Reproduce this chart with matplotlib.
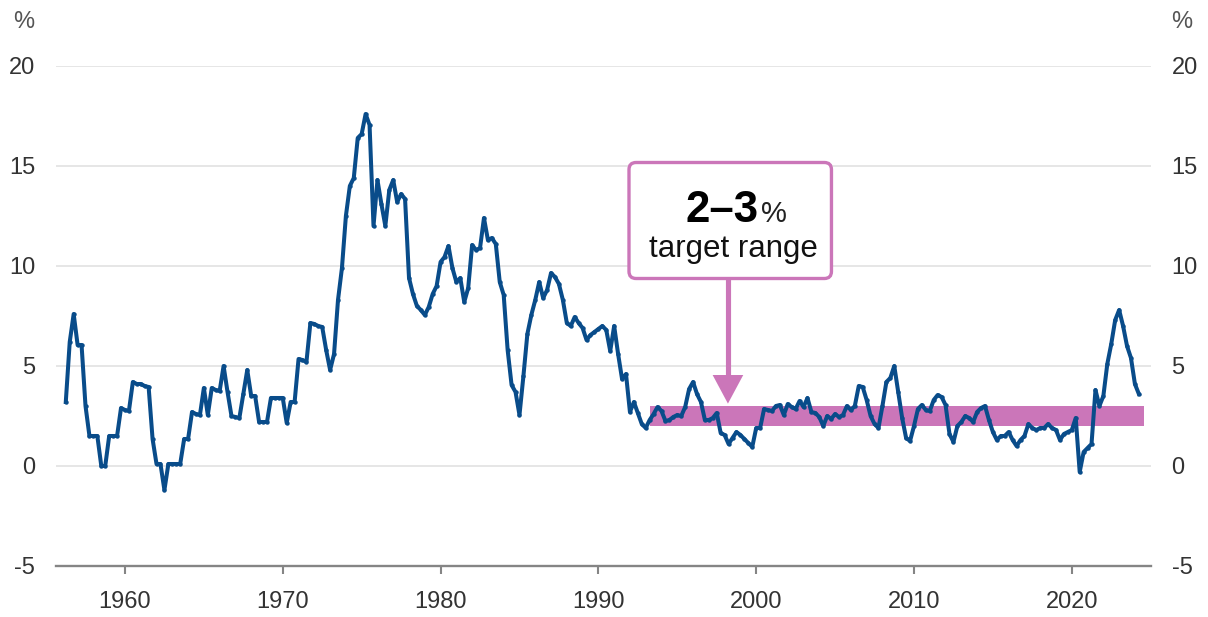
import matplotlib
matplotlib.use("Agg")
import matplotlib.pyplot as plt
from matplotlib.patches import FancyBboxPatch, Polygon
import numpy as np

plt.rcParams['font.family'] = ['Liberation Sans', 'DejaVu Sans']
plt.rcParams['axes.unicode_minus'] = False

# Year-ended inflation, quarterly (Mar, Jun, Sep, Dec), starting Mar 1956
infl_1950s = [3.2, 6.2, 7.6, 6.05,
              6.05, 3.0, 1.5, 1.5,
              1.5, 0.0, 0.0, 1.5,
              1.5, 1.5, 2.9, 2.8]
infl_1960s = [2.75, 4.2, 4.1, 4.1,
              4.0, 3.95, 1.35, 0.1,
              0.1, -1.2, 0.1, 0.1,
              0.1, 0.1, 1.35, 1.35,
              2.7, 2.6, 2.55, 3.9,
              2.55, 3.9, 3.8, 3.75,
              5.0, 3.7, 2.5, 2.45,
              2.4, 3.6, 4.8, 3.5,
              3.5, 2.2, 2.2, 2.2,
              3.4, 3.4, 3.4, 3.4]
infl_1970s = [2.15, 3.2, 3.2, 5.35,
              5.3, 5.2, 7.15, 7.1,
              7.0, 6.95, 5.8, 4.8,
              5.6, 8.3, 9.9, 12.5,
              14.0, 14.4, 16.4, 16.6,
              17.6, 17.05, 12.0, 14.3,
              13.1, 12.0, 13.8, 14.3,
              13.2, 13.6, 13.35, 9.4,
              8.6, 8.0, 7.8, 7.55,
              7.95, 8.6, 9.0, 10.2]
infl_1980s = [10.45, 11.0, 9.9, 9.2,
              9.4, 8.2, 8.9, 11.05,
              10.8, 10.9, 12.4, 11.3,
              11.4, 11.1, 9.2, 8.55,
              5.8, 4.05, 3.7, 2.55,
              4.5, 6.6, 7.55, 8.3,
              9.2, 8.4, 8.8, 9.65,
              9.45, 9.1, 8.3, 7.15,
              7.0, 7.45, 7.15, 6.9,
              6.3, 6.55, 6.7, 6.85]
infl_1990s = [7.0, 6.8, 5.75, 7.0,
              5.6, 4.35, 4.6, 2.7,
              3.2, 2.65, 2.1, 1.9,
              2.3, 2.6, 2.95, 2.75,
              2.25, 2.3, 2.45, 2.55,
              2.5, 2.95, 3.85, 4.2,
              3.6, 3.2, 2.3, 2.3,
              2.4, 2.65, 1.65, 1.55,
              1.1, 1.4, 1.7, 1.55,
              1.35, 1.15, 0.95, 1.9]
infl_2000s = [1.9, 2.85, 2.8, 2.75,
              3.0, 3.05, 2.55, 3.1,
              2.95, 2.85, 3.25, 2.95,
              3.4, 2.7, 2.65, 2.45,
              2.0, 2.5, 2.35, 2.6,
              2.45, 2.55, 3.0, 2.8,
              3.0, 4.0, 3.95, 3.3,
              2.5, 2.1, 1.9, 3.0,
              4.2, 4.4, 5.0, 3.7,
              2.4, 1.4, 1.25, 2.0]
infl_2010s = [2.85, 3.05, 2.8, 2.75,
              3.3, 3.55, 3.45, 3.05,
              1.6, 1.2, 2.0, 2.2,
              2.5, 2.4, 2.2, 2.7,
              2.9, 3.0, 2.3, 1.7,
              1.3, 1.5, 1.5, 1.7,
              1.3, 1.0, 1.3, 1.5,
              2.1, 1.9, 1.8, 1.9,
              1.9, 2.1, 1.9, 1.8,
              1.3, 1.6, 1.7, 1.8]
infl_2020s = [2.4, -0.3, 0.7, 0.9,
              1.1, 3.8, 3.0, 3.5,
              5.1, 6.1, 7.3, 7.8,
              7.0, 6.0, 5.4, 4.1,
              3.6]

start_year = 1956
target_low, target_high = 2, 3
target_start, target_end = 1993.27, 2024.6
year_ticks = [1960, 1970, 1980, 1990, 2000, 2010, 2020]
y_ticks = [-5, 0, 5, 10, 15, 20]

values = np.array(infl_1950s + infl_1960s + infl_1970s + infl_1980s +
                  infl_1990s + infl_2000s + infl_2010s + infl_2020s)
dates = start_year + 0.25 * (np.arange(len(values)) + 1)

LINE = '#094C8A'
PINK = '#CB76B9'
GRID = '#E2E2E2'
AXIS = '#858585'
TXT = '#333333'

W, H = 1208, 617
fig = plt.figure(figsize=(W / 100, H / 100), dpi=100)
ax = fig.add_axes([56 / W, 51 / H, (1150.7 - 56) / W, 500 / H])

ax.set_xlim(1955.63, 2025.0)
ax.set_ylim(-5, 20)

for yv in y_ticks[1:]:
    ax.axhline(yv, color=GRID, lw=1.2, zorder=0)

for s in ['top', 'left', 'right']:
    ax.spines[s].set_visible(False)
ax.spines['bottom'].set_color(AXIS)
ax.spines['bottom'].set_linewidth(1.7)

ax.set_xticks(year_ticks)
ax.set_xticklabels([str(y) for y in year_ticks])
ax.tick_params(axis='x', length=5.8, width=1.5, color=AXIS, pad=12.5,
               labelsize=17, labelcolor=TXT)
ax.set_yticks(y_ticks)
ax.set_yticklabels([str(v) for v in y_ticks])
ax.tick_params(axis='y', length=0, pad=15, labelsize=17, labelcolor=TXT,
               left=False, right=False, labelleft=True, labelright=True)

# target band
ax.fill_between([target_start, target_end], target_low, target_high,
                color=PINK, lw=0, zorder=1)

# inflation line
ax.plot(dates, values, color=LINE, lw=2.9, zorder=3, solid_joinstyle='round',
        marker='o', markersize=3.2, markeredgewidth=0)

# annotation box
bx0, bx1 = 1991.94, 2004.77
by0, by1 = 9.375, 15.175
box = FancyBboxPatch((bx0, by0), bx1 - bx0, by1 - by0,
                     boxstyle="round,pad=0,rounding_size=0.45",
                     mutation_aspect=0.79, facecolor='white',
                     edgecolor=PINK, lw=2.4, zorder=4)
ax.add_patch(box)

ax_x = 1998.21
ax.plot([ax_x, ax_x], [by0, 4.5], color=PINK, lw=3.7, zorder=4,
        solid_capstyle='butt')
ax.add_patch(Polygon([[ax_x - 0.97, 4.55], [ax_x + 0.97, 4.55], [ax_x, 3.12]],
                     closed=True, facecolor=PINK, edgecolor='none', zorder=4))

ax.text(2000.18, 12.215, '2–3', ha='right', va='baseline', fontsize=31.5,
        fontweight='bold', color='black', zorder=5)
ax.text(2000.30, 12.215, '%', ha='left', va='baseline', fontsize=21,
        color='#222222', zorder=5)
ax.text(1998.59, 10.465, 'target range', ha='center', va='baseline',
        fontsize=22.5, color='#111111', zorder=5)

# % unit labels
fig.text(24 / W, 1 - 22 / H, '%', ha='center', va='center', fontsize=17,
         color='#555555')
fig.text(1182 / W, 1 - 22 / H, '%', ha='center', va='center', fontsize=17,
         color='#555555')

fig.savefig('out.png', dpi=100)
